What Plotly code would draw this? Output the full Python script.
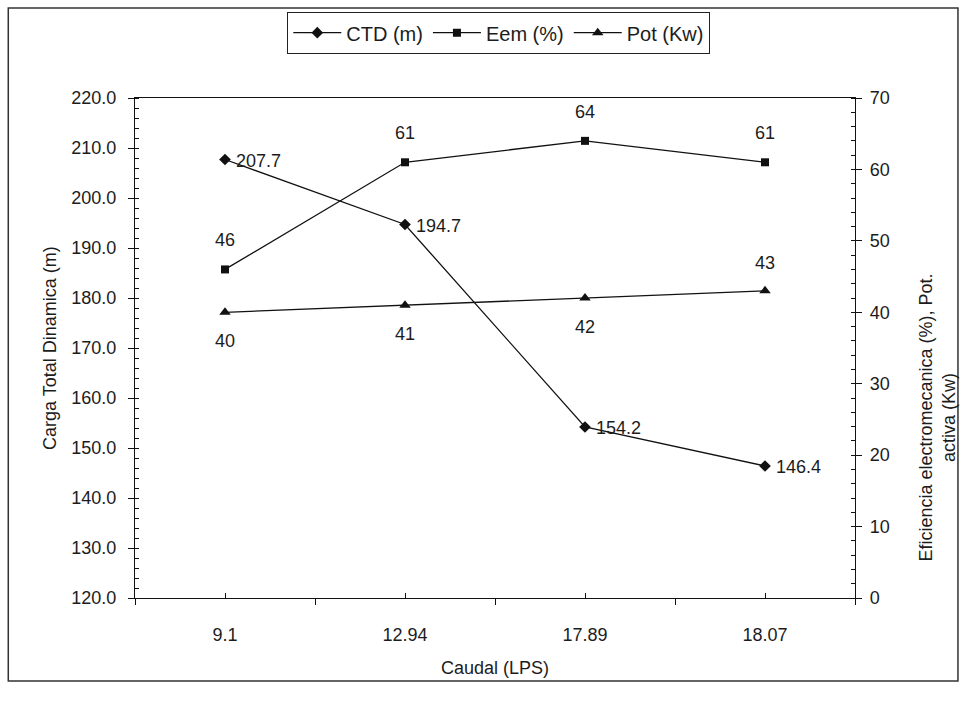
import plotly.graph_objects as go

# ---- data ----
caudal = ["9.1", "12.94", "17.89", "18.07"]
ctd = [207.7, 194.7, 154.2, 146.4]
eem = [46, 61, 64, 61]
pot = [40, 41, 42, 43]
ctd_labels = ["207.7", "194.7", "154.2", "146.4"]
eem_labels = ["46", "61", "64", "61"]
pot_labels = ["40", "41", "42", "43"]
pot_label_side = ["below", "below", "below", "above"]

FONT = "Liberation Sans, Arial, sans-serif"
TXT = "#1c1c1c"
LINE = "#111111"
FS = 18

fig = go.Figure()

fig.add_trace(go.Scatter(
    x=caudal, y=ctd, name="CTD (m)", mode="lines+markers",
    line=dict(color=LINE, width=1.3),
    marker=dict(symbol="diamond", size=9, color=LINE),
    xaxis="x", yaxis="y"))
fig.add_trace(go.Scatter(
    x=caudal, y=eem, name="Eem (%)", mode="lines+markers",
    line=dict(color=LINE, width=1.3),
    marker=dict(symbol="square", size=8, color=LINE),
    xaxis="x", yaxis="y2"))
fig.add_trace(go.Scatter(
    x=caudal, y=pot, name="Pot (Kw)", mode="lines+markers",
    line=dict(color=LINE, width=1.3),
    marker=dict(symbol="triangle-up", size=10, color=LINE),
    xaxis="x", yaxis="y2"))
# invisible trace to carry the boundary-tick overlay axis
fig.add_trace(go.Scatter(
    x=caudal, y=[None] * len(caudal), xaxis="x2", yaxis="y",
    showlegend=False, hoverinfo="skip", mode="lines"))

ann = []
# category positions (index on the category axis)
for i, (v, t) in enumerate(zip(ctd, ctd_labels)):
    ann.append(dict(x=i, y=v, xref="x", yref="y", text=t, showarrow=False,
                    xanchor="left", xshift=9, yshift=-1,
                    font=dict(family=FONT, size=FS, color=TXT)))
for i, (v, t) in enumerate(zip(eem, eem_labels)):
    ann.append(dict(x=i, y=v, xref="x", yref="y2", text=t, showarrow=False,
                    yshift=29, font=dict(family=FONT, size=FS, color=TXT)))
for i, (v, t, s) in enumerate(zip(pot, pot_labels, pot_label_side)):
    ann.append(dict(x=i, y=v, xref="x", yref="y2", text=t, showarrow=False,
                    yshift=(28 if s == "above" else -29),
                    font=dict(family=FONT, size=FS, color=TXT)))

# axis titles
ann.append(dict(text="Carga Total Dinamica (m)", xref="paper", yref="paper",
                x=0, y=0.5, xshift=-97, textangle=-90, showarrow=False,
                font=dict(family=FONT, size=FS, color=TXT)))
ann.append(dict(text="Eficiencia electromecanica (%), Pot.<br>activa (Kw)",
                xref="paper", yref="paper", x=1, y=0.36, xshift=105,
                textangle=-90, showarrow=False, align="center",
                font=dict(family=FONT, size=FS, color=TXT)))
ann.append(dict(text="Caudal (LPS)", xref="paper", yref="paper",
                x=0.5, y=0, yshift=-82, showarrow=False,
                font=dict(family=FONT, size=FS, color=TXT)))

fig.update_layout(
    width=965, height=705,
    margin=dict(l=135, r=110, t=92, b=107),
    paper_bgcolor="white", plot_bgcolor="white",
    font=dict(family=FONT, size=FS, color=TXT),
    showlegend=True,
    legend=dict(orientation="h", x=0.505, xanchor="center",
                y=1.172, yanchor="top",
                bordercolor="#222222", borderwidth=1.2,
                font=dict(family=FONT, size=20, color=TXT),
                itemwidth=48, tracegroupgap=0),
    xaxis=dict(type="category", categoryorder="array", categoryarray=caudal,
               range=[-0.5, 3.5], showgrid=False, zeroline=False,
               showline=True, linecolor=LINE, linewidth=1.3, mirror=True,
               ticks="inside", ticklen=5, tickcolor=LINE, tickson="labels",
               ticklabelstandoff=20,
               tickfont=dict(family=FONT, size=FS, color=TXT)),
    xaxis2=dict(type="category", categoryorder="array", categoryarray=caudal,
                range=[-0.5, 3.5], overlaying="x", anchor="y", side="bottom",
                showgrid=False, zeroline=False, showline=False,
                ticks="outside", ticklen=6, tickcolor=LINE,
                tickson="boundaries", showticklabels=False),
    yaxis=dict(range=[120, 220], dtick=10, tickformat=".1f",
               showgrid=False, zeroline=False, showline=True,
               linecolor=LINE, linewidth=1.3,
               ticks="outside", ticklen=6, tickcolor=LINE,
               ticklabelstandoff=8,
               minor=dict(ticks="inside", dtick=2, ticklen=4, tickcolor=LINE),
               tickfont=dict(family=FONT, size=FS, color=TXT)),
    yaxis2=dict(range=[0, 70], dtick=10, overlaying="y", side="right",
                anchor="x", showgrid=False, zeroline=False, showline=True,
                linecolor=LINE, linewidth=1.3,
                ticks="outside", ticklen=6, tickcolor=LINE,
                ticklabelstandoff=4,
                minor=dict(ticks="inside", dtick=2, ticklen=4, tickcolor=LINE),
                tickfont=dict(family=FONT, size=FS, color=TXT)),
    annotations=ann,
    shapes=[dict(type="rect", xref="paper", yref="paper",
                 x0=-0.176, x1=1.143, y0=-0.166, y1=1.18,
                 line=dict(color="#333333", width=1.5))],
)

fig.write_html("out.html")
